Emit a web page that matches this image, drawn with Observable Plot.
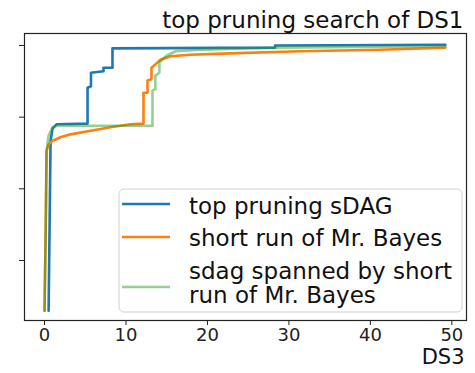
<!DOCTYPE html>
<html><head><meta charset="utf-8">
<script src="https://cdn.jsdelivr.net/npm/d3@7"></script>
<script src="https://cdn.jsdelivr.net/npm/@observablehq/plot@0.6"></script>
<style>body{margin:0;background:#fff}</style>
</head><body><div id="chart"></div>
<script>
const title = "top pruning search of DS1";
const xLabel = "DS3";
const xTicks = [0, 10, 20, 30, 40, 50];
const yTicks = [0, 1, 2, 3];
const seriesNames = ["top pruning sDAG", "short run of Mr. Bayes", "sdag spanned by short\nrun of Mr. Bayes"];

const blueX = [0.5, 0.74, 0.98, 1.47, 5.28, 5.28, 5.7, 5.7, 7.24, 7.24, 8.34, 8.34, 28.3, 28.3, 49.2];
const blueY = [-0.7, 1.67, 1.84, 1.9, 1.91, 2.41, 2.43, 2.62, 2.64, 2.69, 2.69, 2.96, 2.97, 3.0, 3.01];

const orangeX = [0, 0.15, 0.25, 0.49, 0.98, 1.96, 3.19, 5.64, 8.1, 10.55, 12.15, 12.15, 12.64, 12.64, 13.13, 13.13, 13.74, 14.23, 15.46, 17.9, 22.8, 31.4, 41.2, 49.2];
const orangeY = [-0.7, 0.5, 1.53, 1.62, 1.67, 1.72, 1.76, 1.81, 1.86, 1.9, 1.91, 2.34, 2.34, 2.51, 2.53, 2.69, 2.75, 2.8, 2.85, 2.87, 2.89, 2.92, 2.94, 2.97];

const greenX = [0, 0.15, 0.25, 0.49, 0.98, 1.47, 13.25, 13.25, 13.6, 13.6, 14.1, 14.1, 14.6, 15.0, 16.1, 19.1, 28.3, 49.2];
const greenY = [-0.7, 0.5, 1.53, 1.74, 1.86, 1.88, 1.88, 2.37, 2.39, 2.58, 2.62, 2.76, 2.82, 2.86, 2.92, 2.94, 2.97, 2.99];

const colors = ["#1f77b4", "#ff7f0e", "#2ca02c"];
const toRows = (xs, ys) => xs.map((x, i) => ({x, y: ys[i]}));

const chart = Plot.plot({
  width: 475, height: 373,
  marginLeft: 24, marginRight: 9, marginTop: 33, marginBottom: 53,
  style: {fontFamily: "DejaVu Sans", fontSize: "18px", color: "#222", background: "white", overflow: "visible"},
  x: {domain: [-2.46, 51.8]},
  y: {domain: [-0.837, 3.167]},
  marks: [
    Plot.axisX({ticks: xTicks, tickSize: 5, tickPadding: 3, label: null, fontSize: 18}),
    Plot.axisY({ticks: yTicks, tickSize: 5, tickFormat: () => "", label: null}),
    Plot.line(toRows(blueX, blueY), {x: "x", y: "y", stroke: colors[0], strokeWidth: 2.6}),
    Plot.line(toRows(orangeX, orangeY), {x: "x", y: "y", stroke: colors[1], strokeWidth: 2.6}),
    Plot.line(toRows(greenX, greenY), {x: "x", y: "y", stroke: colors[2], strokeOpacity: 0.5, strokeWidth: 2.6}),
    Plot.frame({stroke: "#222", strokeWidth: 1.2}),
    Plot.text([title], {frameAnchor: "top-right", dx: -3, dy: -21.5, fontSize: 23, textAnchor: "end", fill: "#111"}),
    Plot.text([xLabel], {frameAnchor: "bottom-right", dx: -2, dy: 43, fontSize: 21, textAnchor: "end", fill: "#111"})
  ]
});
document.getElementById("chart").append(chart);

// legend
const svg = d3.select(chart);
const lg = svg.append("g").attr("font-family", "DejaVu Sans").attr("font-size", 23).attr("text-anchor", "start");
lg.append("rect").attr("x", 119).attr("y", 189).attr("width", 343).attr("height", 123)
  .attr("rx", 5).attr("fill", "white").attr("fill-opacity", 0.85).attr("stroke", "#d0d0d0");
const entries = [
  {c: colors[0], o: 1, ly: 204, lines: [seriesNames[0]], ty: 214},
  {c: colors[1], o: 1, ly: 237, lines: [seriesNames[1]], ty: 246},
  {c: colors[2], o: 0.5, ly: 287, lines: seriesNames[2].split("\n"), ty: 279}
];
entries.forEach(e => {
  lg.append("line").attr("x1", 122).attr("x2", 170).attr("y1", e.ly).attr("y2", e.ly)
    .attr("stroke", e.c).attr("stroke-opacity", e.o).attr("stroke-width", 2.6);
  e.lines.forEach((t, i) => {
    lg.append("text").attr("x", 189).attr("y", e.ty + i * 24).attr("text-anchor", "start").attr("fill", "#111").text(t);
  });
});
</script></body></html>
